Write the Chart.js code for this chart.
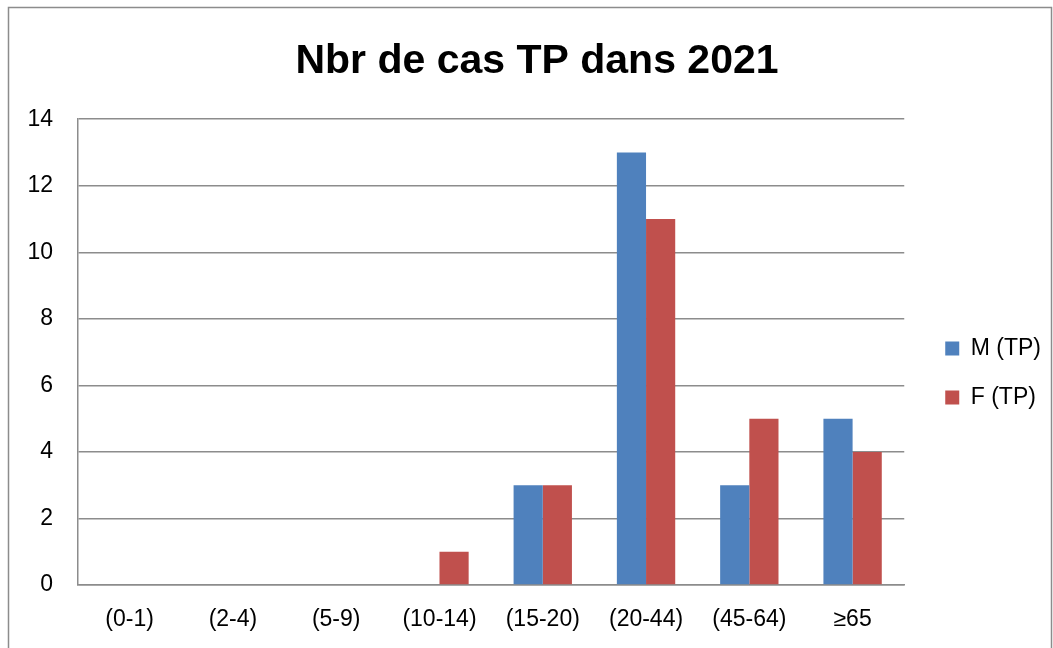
<!DOCTYPE html>
<html>
<head>
<meta charset="utf-8">
<script src="https://cdn.jsdelivr.net/npm/chart.js@4.4.0/dist/chart.umd.min.js"></script>
<style>
  html, body { margin: 0; padding: 0; background: #fff; }
  #wrap { width: 1053px; height: 648px; position: relative; }
</style>
</head>
<body>
<div id="wrap"><canvas id="mycanvas"></canvas></div>
<script>
// data
var categories = ["(0-1)", "(2-4)", "(5-9)", "(10-14)", "(15-20)", "(20-44)", "(45-64)", "\u226565"];
var male_tp = [0, 0, 0, 0, 3, 13, 3, 5];
var female_tp = [0, 0, 0, 1, 3, 11, 5, 4];
var y_ticks = [0, 2, 4, 6, 8, 10, 12, 14];

var FONT = "'Liberation Sans', 'DejaVu Sans', sans-serif";
var GRID = "#8c8c8c";

// thin frame around the whole chart, like the office export
var framePlugin = {
  id: "frame",
  beforeDraw: function(chart) {
    var c = chart.ctx;
    c.save();
    c.strokeStyle = "#8c8c8c";
    c.lineWidth = 1.5;
    c.strokeRect(8.5, 7.5, chart.width - 10, chart.height + 10);
    c.restore();
  }
};

// nudge legend and title to where the original has them
var nudge = {
  id: "nudge",
  afterLayout: function(chart) {
    var lg = chart.legend;
    if (lg) {
      lg.left += 15; lg.right += 15;
      lg.top += 43; lg.bottom += 43;
    }
    var tb = chart.titleBlock;
    if (tb) {
      tb.left += 15; tb.right += 15;
    }
  }
};

var chartdata = {
  labels: categories,
  datasets: [
    {
      label: "M (TP)",
      backgroundColor: "#4f81bd",
      data: male_tp
    },
    {
      label: "F (TP)",
      backgroundColor: "#c0504d",
      data: female_tp
    }
  ]
};

var ctx = document.getElementById("mycanvas");

var BarGraph = new Chart(ctx, {
  type: "bar",
  data: chartdata,
  plugins: [framePlugin, nudge],
  options: {
    responsive: true,
    maintainAspectRatio: false,
    animation: { duration: 0 },
    layout: { padding: { left: 8, top: 12, right: 17, bottom: 0 } },
    datasets: {
      bar: { categoryPercentage: 0.565, barPercentage: 1.0 }
    },
    plugins: {
      title: {
        display: true,
        text: "Nbr de cas TP dans 2021",
        color: "#000",
        font: { family: FONT, size: 41, weight: "bold" },
        padding: { top: 25, bottom: 33 }
      },
      legend: {
        position: "right",
        labels: {
          boxWidth: 14,
          boxHeight: 14,
          padding: 26,
          color: "#000",
          font: { family: FONT, size: 23 }
        }
      },
      tooltip: { enabled: false }
    },
    scales: {
      x: {
        afterFit: function(scale) { scale.height = 63; },
        grid: { display: false, drawTicks: false },
        border: { display: true, color: GRID, width: 1.5 },
        ticks: { color: "#000", padding: 21, font: { family: FONT, size: 23 } }
      },
      y: {
        min: 0,
        max: 14,
        afterFit: function(scale) { scale.width = 70; },
        afterBuildTicks: function(scale) {
          scale.ticks = y_ticks.map(function(v) { return { value: v }; });
        },
        grid: { color: GRID, lineWidth: 1.5, drawTicks: false },
        border: { display: true, color: GRID, width: 1.5 },
        ticks: { color: "#000", padding: 25, font: { family: FONT, size: 23 } }
      }
    }
  }
});
</script>
</body>
</html>
